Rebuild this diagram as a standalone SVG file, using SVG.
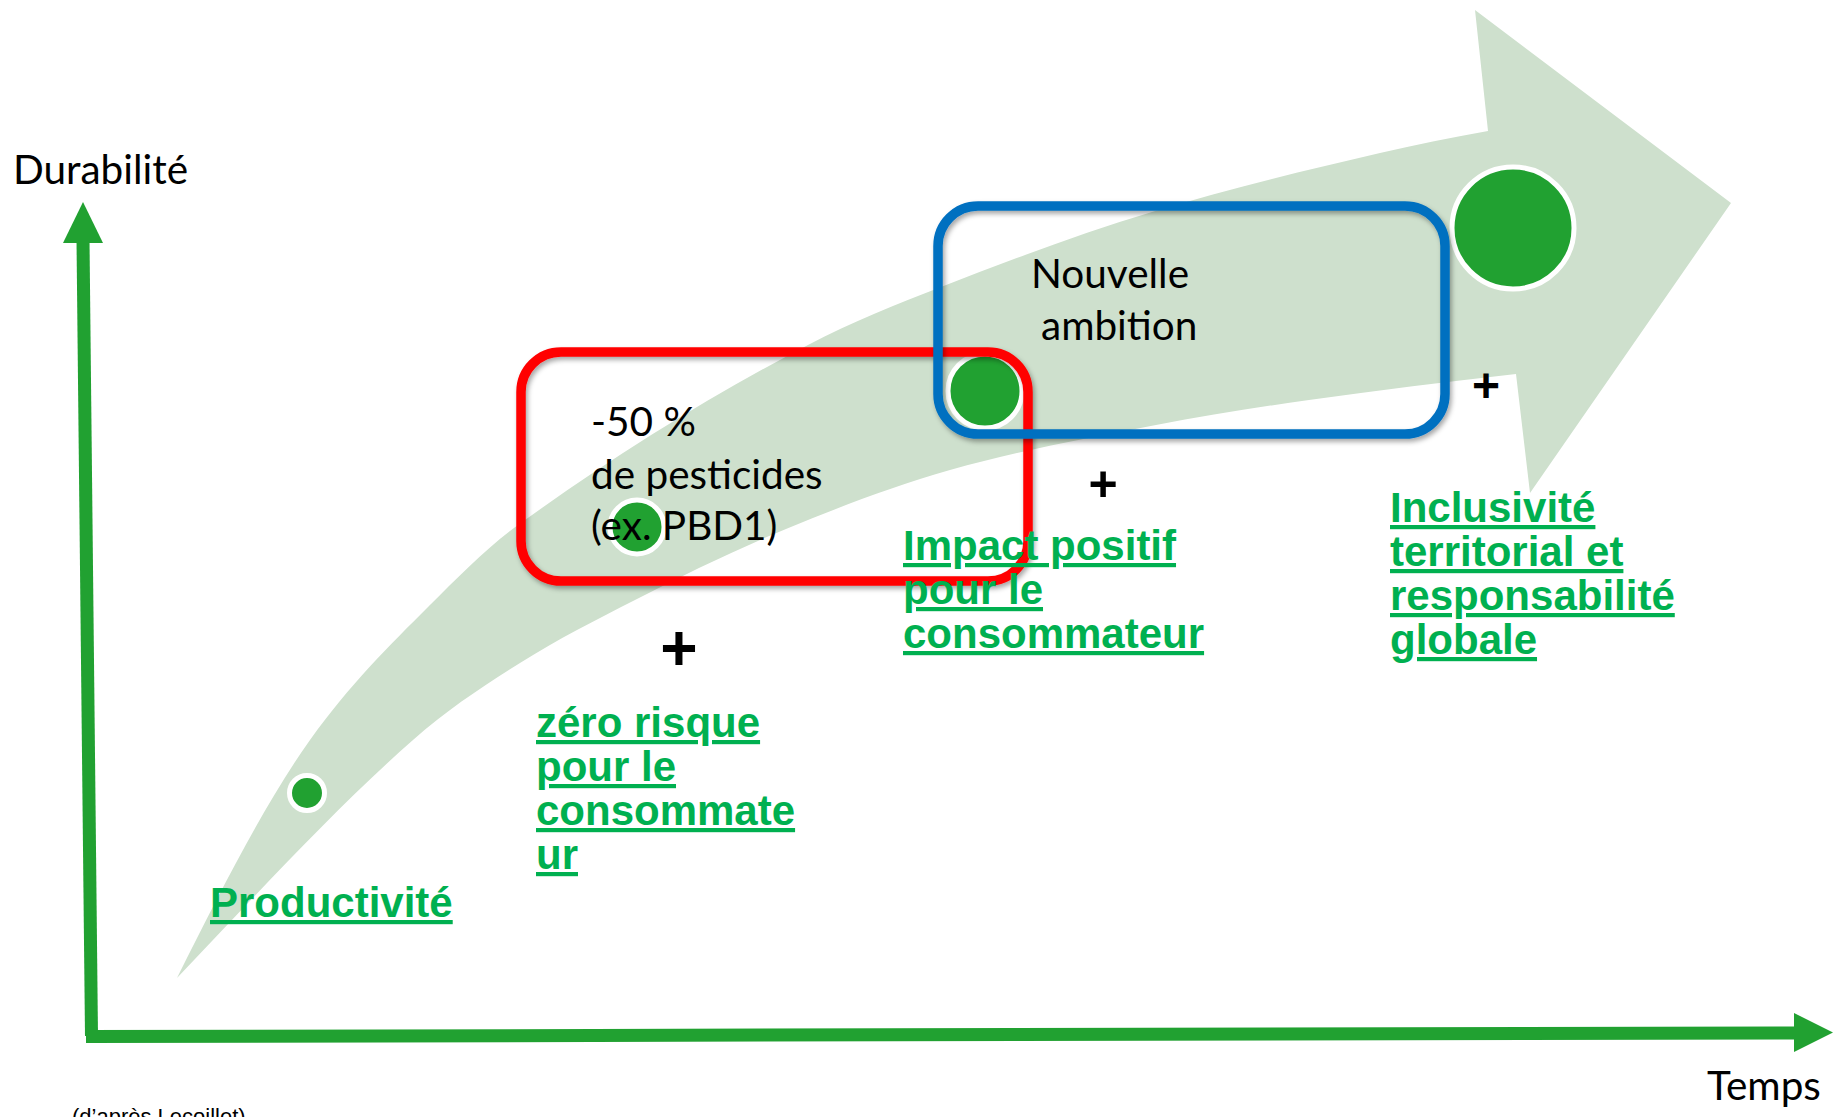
<svg xmlns="http://www.w3.org/2000/svg" width="1835" height="1117" viewBox="0 0 1835 1117">
<style>
.lbl{font-family:Lato,"Open Sans",sans-serif;font-size:40.5px;fill:#000}
.grn{font-family:"Liberation Sans",Arial,sans-serif;font-weight:bold;font-size:42px;fill:#00B050;text-decoration:underline}
.plus{font-family:"Liberation Sans",Arial,sans-serif;font-weight:bold;fill:#000;text-anchor:middle}
.dot{fill:#21A131;stroke:#fff;stroke-width:5}
.box{fill:none;stroke-width:9.5}
</style>
<defs>
<filter id="sh" x="-10%" y="-10%" width="120%" height="130%">
<feDropShadow dx="2" dy="3" stdDeviation="2.5" flood-color="#000" flood-opacity="0.35"/>
</filter>
</defs>
<rect width="1835" height="1117" fill="#fff"/>
<g id="trend-arrow">
<path fill="#CEE0CD" d="M177,978 C221.3,889.3 265.7,802 310,740 C349.7,684.5 389.3,645.7 429,606 C458.7,576.3 488.3,546.4 518,525 C614.7,455.4 711.3,395.3 808,345 C852.3,321.9 896.7,304.3 941,287 C1011.3,259.6 1081.7,233.1 1152,212 C1228,189.2 1304,170.5 1380,153 C1416,144.7 1452,137.5 1488,131 L1475,10 L1731,203 L1530,493 L1516,374 C1447,381.6 1378,390.3 1309,400 C1258,407.1 1207,415.3 1156,425 C1087.3,438 1018.7,450.8 950,470 C895.3,485.3 840.7,506.6 786,529 C735.7,549.6 685.3,574.3 635,600 C596.7,619.5 558.3,638.9 520,663 C484.3,685.5 448.7,708.6 413,740 C334.3,809.2 255.7,895.4 177,978 Z"/>
</g>
<g id="connectors">
<line x1="91.5" y1="1036" x2="83" y2="240" stroke="#21A131" stroke-width="13"/>
<polygon points="83,202 103,243 63,243" fill="#21A131"/>
<line x1="86" y1="1036.5" x2="1796" y2="1033" stroke="#21A131" stroke-width="13"/>
<polygon points="1794,1013 1833,1032.5 1794,1052" fill="#21A131"/>
</g>
<g id="axis-labels">
<text class="lbl" x="13" y="184">Durabilité</text>
<text class="lbl" x="1707" y="1100">Temps</text>
<text x="72" y="1124" font-family="'Liberation Sans',Arial,sans-serif" font-size="22" fill="#000">(d’après Lecoillet)</text>
</g>
<g id="dots">
<circle class="dot" cx="307" cy="793" r="17.5"/>
<circle class="dot" cx="637" cy="527" r="27"/>
<circle class="dot" cx="985" cy="391" r="37"/>
<circle class="dot" cx="1513" cy="228" r="61"/>
</g>
<g id="box-pesticides">
<rect class="box" x="521" y="352" width="507" height="229" rx="40" stroke="#FF0000" filter="url(#sh)"/>
<text class="lbl" x="591" y="436">-50 %</text>
<text class="lbl" x="591" y="489">de pesticides</text>
<text class="lbl" x="591" y="540">(ex. PBD1)</text>
</g>
<g id="box-ambition">
<rect class="box" x="938" y="206" width="507" height="228" rx="40" stroke="#0070C0" filter="url(#sh)"/>
<text class="lbl" x="1031" y="288">Nouvelle</text>
<text class="lbl" x="1041" y="340">ambition</text>
</g>
<g id="productivite">
<text class="grn" x="210" y="917">Productivité</text>
</g>
<g id="zero-risque">
<text class="plus" x="679" y="670" font-size="64">+</text>
<text class="grn" x="536" y="737">zéro risque</text>
<text class="grn" x="536" y="781">pour le</text>
<text class="grn" x="536" y="825">consommate</text>
<text class="grn" x="536" y="869">ur</text>
</g>
<g id="impact-positif">
<text class="plus" x="1103" y="501" font-size="50">+</text>
<text class="grn" x="903" y="560">Impact positif</text>
<text class="grn" x="903" y="604">pour le</text>
<text class="grn" x="903" y="648">consommateur</text>
</g>
<g id="inclusivite">
<text class="plus" x="1486" y="402" font-size="48">+</text>
<text class="grn" x="1390" y="522">Inclusivité</text>
<text class="grn" x="1390" y="566">territorial et</text>
<text class="grn" x="1390" y="610">responsabilité</text>
<text class="grn" x="1390" y="654">globale</text>
</g>
</svg>
